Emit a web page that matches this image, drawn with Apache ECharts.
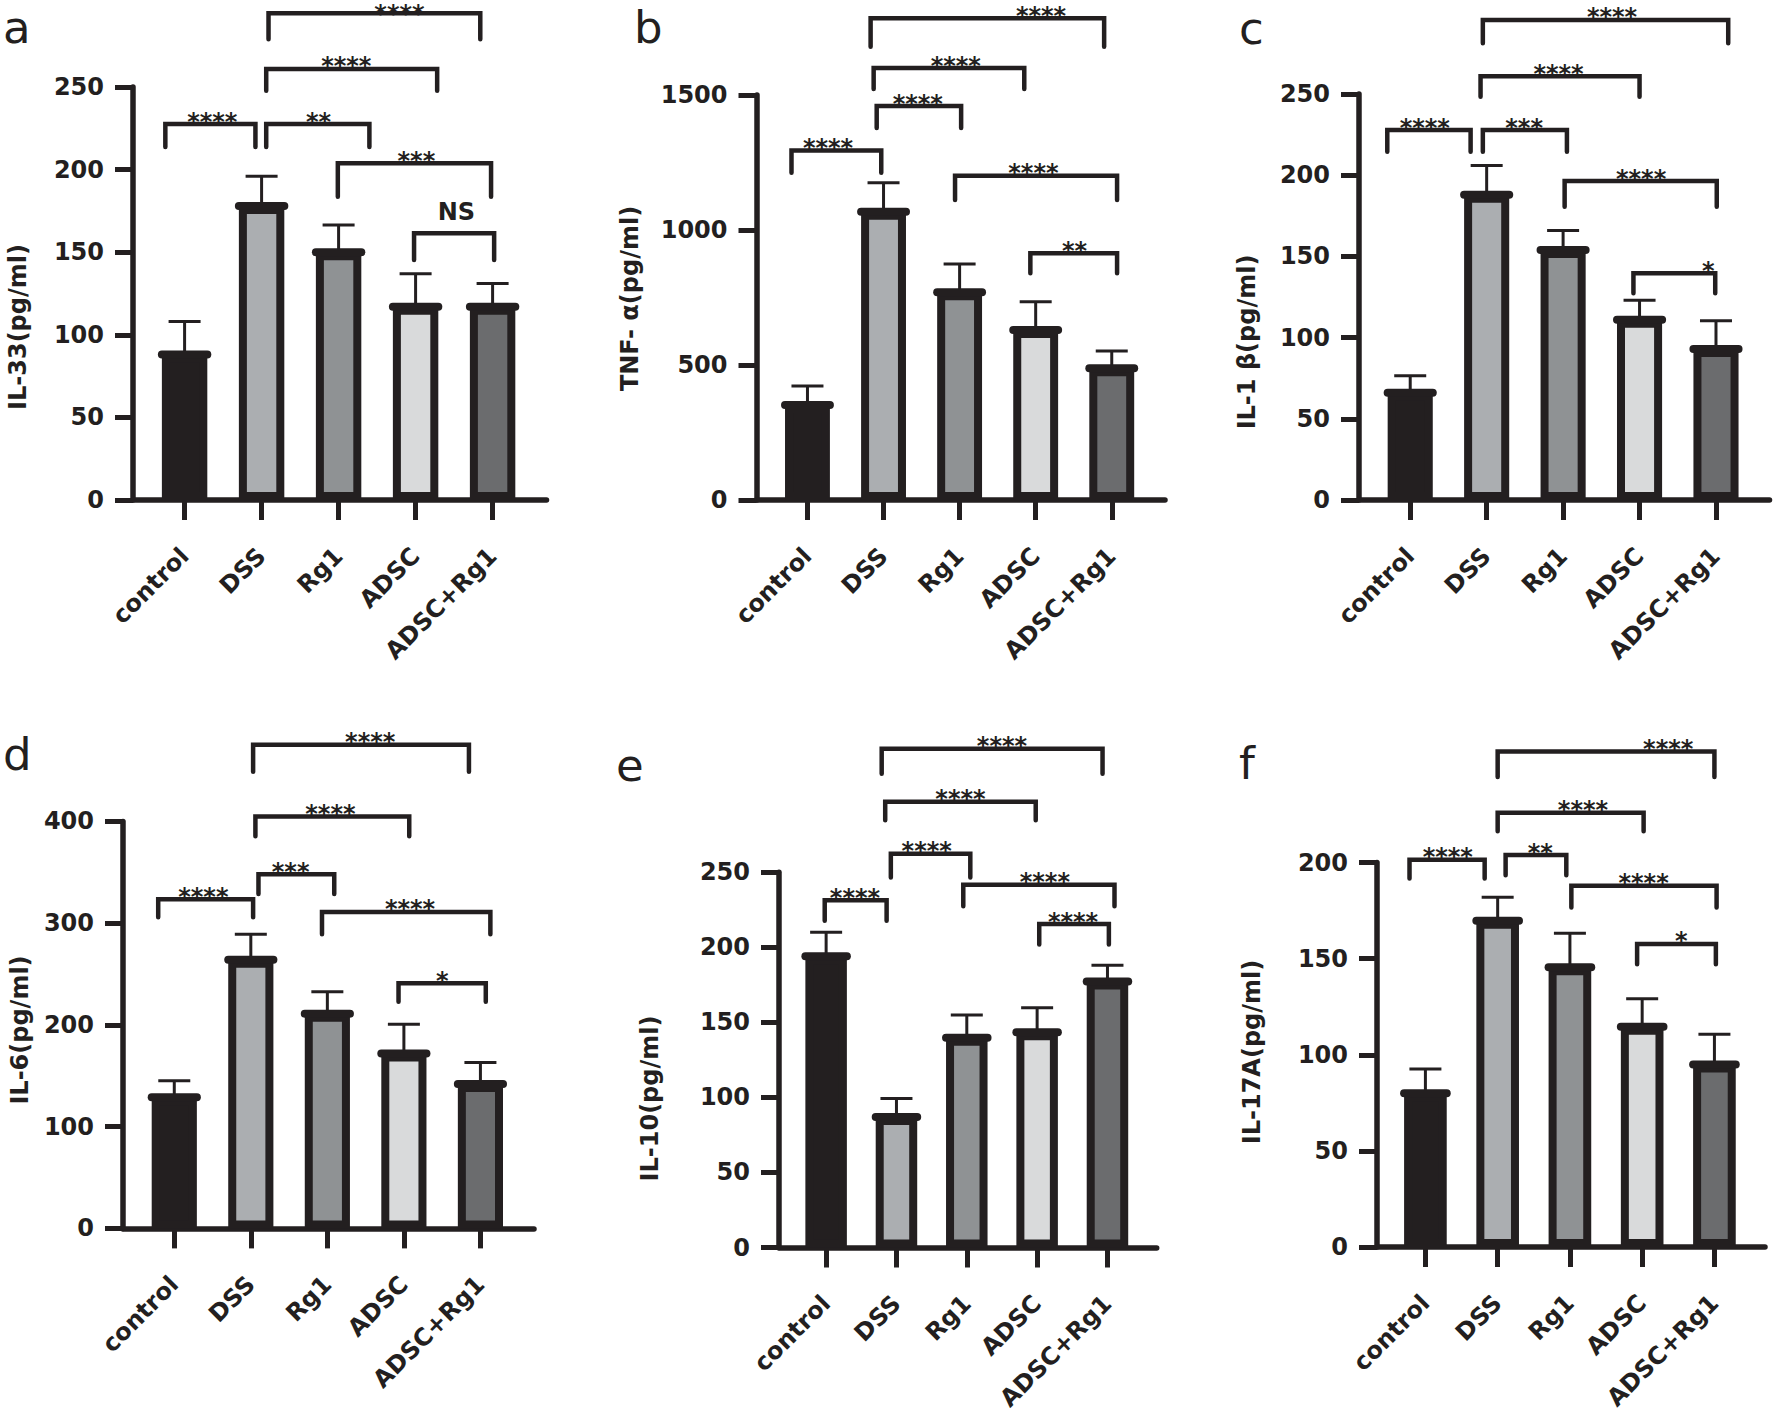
<!DOCTYPE html>
<html><head><meta charset="utf-8">
<script src="https://cdn.jsdelivr.net/npm/echarts@6/dist/echarts.min.js"></script>
<style>html,body{margin:0;padding:0;background:#fff}#c{width:1776px;height:1412px}</style>
</head><body><div id="c"></div>
<script>
// ---------- data ----------
const categories = ['control', 'DSS', 'Rg1', 'ADSC', 'ADSC+Rg1'];
const panelLetters = ['a', 'b', 'c', 'd', 'e', 'f'];
const yTitles = ['IL-33(pg/ml)', 'TNF- α(pg/ml)', 'IL-1 β(pg/ml)', 'IL-6(pg/ml)', 'IL-10(pg/ml)', 'IL-17A(pg/ml)'];

const il33Mean = [88, 178, 150, 117, 117];
const il33Sd   = [20, 18, 16.5, 20, 14];
const tnfMean  = [352, 1068, 769, 630, 488];
const tnfSd    = [70, 107, 105, 104, 64];
const il1bMean = [66, 188, 154, 111, 93];
const il1bSd   = [10.5, 18, 12, 12, 17.4];
const il6Mean  = [129, 264, 211, 172, 142];
const il6Sd    = [16, 25, 21.5, 28.7, 21];
const il10Mean = [194, 87, 139.8, 143.4, 177.2];
const il10Sd   = [16, 12.2, 15.2, 16.4, 10.8];
const il17Mean = [80, 169.8, 145.6, 114.6, 94.9];
const il17Sd   = [12.6, 12.2, 17.7, 14.6, 15.8];

const yMax  = [250, 1500, 250, 400, 250, 200];
const yStep = [50, 500, 50, 100, 50, 50];

// significance brackets: [from (category pos), to (category pos), bracket level, leg end level, label, label pos]
const il33Brackets = [
  [-0.25, 0.92, 227.6, 213.7, '****', 0.36],
  [1.06, 2.40, 227.6, 213.7, '**', 1.74],
  [1.99, 3.98, 203.8, 183.6, '***', 3.01],
  [2.98, 4.02, 161.4, 145.3, 'NS', 3.53],
  [1.06, 3.28, 260.9, 247.8, '****', 2.10],
  [1.09, 3.84, 294.6, 278.9, '****', 2.79]
];
const tnfBrackets = [
  [-0.21, 0.97, 1294, 1212, '****', 0.27],
  [0.91, 2.02, 1459, 1378, '****', 1.45],
  [0.87, 2.85, 1600, 1522, '****', 1.95],
  [0.83, 3.90, 1784, 1679, '****', 3.07],
  [1.94, 4.07, 1201, 1111, '****', 2.97],
  [2.93, 4.07, 913.6, 839.6, '**', 3.51]
];
const il1bBrackets = [
  [-0.30, 0.79, 227.8, 214.5, '****', 0.19],
  [0.95, 2.05, 227.8, 214.5, '***', 1.49],
  [0.92, 3.00, 261, 248.3, '****', 1.94],
  [0.95, 4.16, 295.6, 281.2, '****', 2.64],
  [2.02, 4.01, 196.4, 180.6, '****', 3.02],
  [2.92, 3.99, 139.6, 127.3, '*', 3.90]
];
const il6Brackets = [
  [-0.21, 1.03, 323.4, 305.7, '****', 0.38],
  [1.10, 2.09, 348, 328.7, '***', 1.52],
  [1.06, 3.07, 404.8, 385.3, '****', 2.04],
  [1.03, 3.85, 475.4, 448.9, '****', 2.56],
  [1.93, 4.13, 311, 289.2, '****', 3.08],
  [2.93, 4.07, 241, 222.7, '*', 3.50]
];
const il10Brackets = [
  [-0.02, 0.86, 231.4, 217.8, '****', 0.41],
  [0.92, 2.05, 262.4, 246.5, '****', 1.43],
  [0.84, 2.98, 297, 284.6, '****', 1.91],
  [0.79, 3.93, 332.4, 315.7, '****', 2.50],
  [1.95, 4.10, 241.7, 227.3, '****', 3.11],
  [3.03, 4.02, 215.5, 201.9, '****', 3.51]
];
const il17Brackets = [
  [-0.22, 0.82, 201.5, 191.7, '****', 0.31],
  [1.11, 1.95, 203.9, 193.4, '**', 1.59],
  [1.00, 3.02, 226, 216.3, '****', 2.18],
  [1.00, 4.00, 257.8, 244.6, '****', 3.36],
  [2.02, 4.03, 188, 176.7, '****', 3.02],
  [2.93, 4.02, 157.7, 147.1, '*', 3.54]
];

const means = [il33Mean, tnfMean, il1bMean, il6Mean, il10Mean, il17Mean];
const sds = [il33Sd, tnfSd, il1bSd, il6Sd, il10Sd, il17Sd];
const brackets = [il33Brackets, tnfBrackets, il1bBrackets, il6Brackets, il10Brackets, il17Brackets];

// ---------- layout & style ----------
const ink = '#231f20';
const fills = ['#231f20', '#abaeb1', '#8f9294', '#d9dadb', '#6b6c6e'];
const FONT = 'DejaVu Sans';
const X_MIN = -0.67, X_MAX = 4.70;
const grids = [
  {left: 133, top: 87, width: 413.5, height: 413},
  {left: 756.5, top: 95, width: 408.5, height: 405},
  {left: 1359, top: 94, width: 410.5, height: 406},
  {left: 123, top: 821.4, width: 411, height: 407},
  {left: 779, top: 872.3, width: 377.7, height: 375.2},
  {left: 1377, top: 862.6, width: 388, height: 384.4}
];
const letterPos = [[3, 27], [634, 27], [1239, 28], [3, 754], [616, 765], [1239, 763]];
const titlePos = [[18, 327], [630, 298.5], [1247, 342], [20, 1030], [650, 1098.5], [1252, 1052]];

const option = {
  animation: false,
  backgroundColor: '#fff',
  grid: [], xAxis: [], yAxis: [], series: [], graphic: []
};

grids.forEach((g, k) => {
  option.grid.push(Object.assign({containLabel: false, outerBoundsMode: 'none'}, g));
  const spacing = g.width / (X_MAX - X_MIN);
  const barW = spacing * 0.59;
  option.xAxis.push({
    gridIndex: k, type: 'value', min: X_MIN, max: X_MAX,
    axisLine: {show: true, onZero: false, lineStyle: {color: ink, width: 5.5}},
    axisTick: {show: true, customValues: [0, 1, 2, 3, 4], length: 20, lineStyle: {color: ink, width: 5}},
    axisLabel: {
      show: true, customValues: [0, 1, 2, 3, 4], rotate: 45, margin: 52,
      formatter: v => categories[Math.round(v)],
      color: ink, fontFamily: FONT, fontWeight: 'bold', fontSize: 24
    },
    splitLine: {show: false}
  });
  option.yAxis.push({
    gridIndex: k, type: 'value', min: 0, max: yMax[k], interval: yStep[k],
    axisLine: {show: true, onZero: false, lineStyle: {color: ink, width: 5.5}},
    axisTick: {show: true, length: 18, lineStyle: {color: ink, width: 5}},
    axisLabel: {show: true, margin: 29, color: ink, fontFamily: FONT, fontWeight: 'bold', fontSize: 24,
      formatter: v => String(v), showMinLabel: true, showMaxLabel: true},
    splitLine: {show: false}
  });
  option.series.push({
    type: 'bar', xAxisIndex: k, yAxisIndex: k, barWidth: barW, silent: true, z: 2,
    itemStyle: {borderColor: ink, borderWidth: 8},
    data: means[k].map((v, i) => ({value: [i, v], itemStyle: {color: fills[i]}}))
  });
  option.series.push({
    type: 'custom', xAxisIndex: k, yAxisIndex: k, silent: true, z: 3, clip: false,
    encode: {x: 0, y: 1},
    data: means[k].map((v, i) => [i, v, sds[k][i]]),
    renderItem: (params, api) => {
      const i = api.value(0), m = api.value(1), s = api.value(2);
      const base = api.coord([i, m]);
      const top = api.coord([i, m + s]);
      return {type: 'group', children: [
        {type: 'line', shape: {x1: base[0], y1: base[1], x2: top[0], y2: top[1]}, style: {stroke: ink, lineWidth: 3}},
        {type: 'line', shape: {x1: top[0] - 16, y1: top[1], x2: top[0] + 16, y2: top[1]}, style: {stroke: ink, lineWidth: 3}},
        {type: 'line', shape: {x1: base[0] - barW / 2, y1: base[1], x2: base[0] + barW / 2, y2: base[1]},
          style: {stroke: ink, lineWidth: 8, lineCap: 'round'}}
      ]};
    }
  });
  const br = brackets[k];
  option.series.push({
    type: 'custom', xAxisIndex: k, yAxisIndex: k, silent: true, z: 4, clip: false,
    encode: {x: 0, y: 2},
    data: br.map(b => [b[0], b[1], b[2], b[3], b[5]]),
    renderItem: (params, api) => {
      const b = br[params.dataIndex];
      const l1 = api.coord([b[0], b[3]]), p1 = api.coord([b[0], b[2]]);
      const p2 = api.coord([b[1], b[2]]), l2 = api.coord([b[1], b[3]]);
      const t = api.coord([b[5], b[2]]);
      const isNS = b[4] === 'NS';
      const ty = Math.max(t[1] - (isNS ? 21 : 2.5), 14);
      return {type: 'group', children: [
        {type: 'polyline', shape: {points: [l1, p1, p2, l2]},
          style: {stroke: ink, lineWidth: 4.5, fill: null, lineCap: 'round', lineJoin: 'miter'}},
        {type: 'text', x: t[0], y: ty,
          style: {text: b[4], fill: ink, align: 'center', verticalAlign: 'middle',
            font: 'bold ' + (isNS ? 24 : 24) + 'px "' + FONT + '"'}}
      ]};
    }
  });
  option.graphic.push({
    type: 'text', x: letterPos[k][0], y: letterPos[k][1], silent: true,
    style: {text: panelLetters[k], fill: ink, font: '45px "' + FONT + '"', align: 'left', verticalAlign: 'middle'}
  });
  option.graphic.push({
    type: 'text', x: titlePos[k][0], y: titlePos[k][1], rotation: Math.PI / 2, silent: true,
    style: {text: yTitles[k], fill: ink, font: 'bold 24px "' + FONT + '"', align: 'center', verticalAlign: 'middle'}
  });
});

const chart = echarts.init(document.getElementById('c'), null, {renderer: 'svg', width: 1776, height: 1412});
chart.setOption(option);
</script></body></html>
